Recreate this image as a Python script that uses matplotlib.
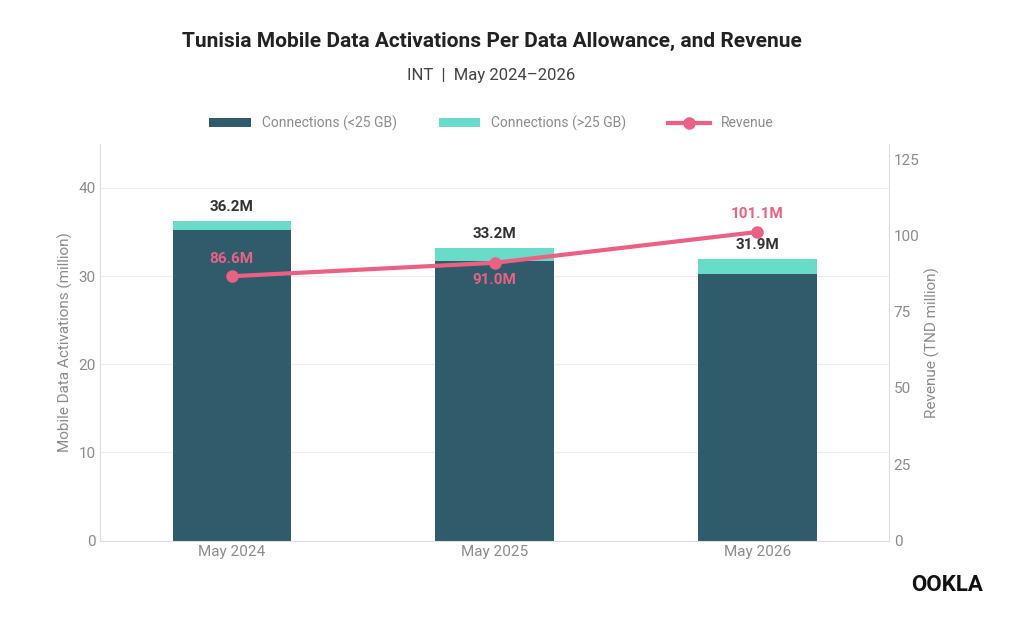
import matplotlib.pyplot as plt
import numpy as np

months = ["May 2024", "May 2025", "May 2026"]
conn_low = [35.2, 31.7, 30.2]
conn_total = [36.2, 33.2, 31.9]
conn_high = [t - l for t, l in zip(conn_total, conn_low)]
revenue = [86.6, 91.0, 101.1]

dark = "#2f5b6b"
teal = "#68dcc8"
pink = "#ec6183"
grey = "#8c8c8c"

plt.rcParams['font.family'] = ['Roboto', 'DejaVu Sans']
fig = plt.figure(figsize=(10.24, 6.25), dpi=100)
ax = fig.add_axes([0.098, 0.135, 0.77, 0.635])
x = np.arange(len(months))
ax.bar(x, conn_low, 0.45, color=dark, label="Connections (<25 GB)", zorder=2)
ax.bar(x, conn_high, 0.45, bottom=conn_low, color=teal, label="Connections (>25 GB)", zorder=2)
for i, t in enumerate(conn_total):
    ax.text(i, t + 0.8, f"{t:.1f}M", ha="center", va="bottom", fontsize=11,
            fontweight="bold", color="#333333")
ax.set_xlim(-0.5, 2.5)
ax.set_ylim(0, 45)
ax.set_yticks([0, 10, 20, 30, 40])
ax.set_xticks(x)
ax.set_xticklabels(months)
ax.grid(axis="y", color="#eeeeee", zorder=0)
ax.set_ylabel("Mobile Data Activations (million)", color=grey, fontsize=11)

ax2 = ax.twinx()
ax2.plot(x, revenue, color=pink, lw=3, marker="o", ms=8, label="Revenue", zorder=3)
ax2.set_ylim(0, 130)
ax2.set_yticks([0, 25, 50, 75, 100, 125])
ax2.set_ylabel("Revenue (TND million)", color=grey, fontsize=11)
offs = [3.5, -3.5, 3.5]
for i, r in enumerate(revenue):
    ax2.text(i, r + offs[i], f"{r:.1f}M", ha="center", va="bottom" if offs[i] > 0 else "top",
             fontsize=11, fontweight="bold", color=pink)

for a in (ax, ax2):
    for s in a.spines.values():
        s.set_visible(False)
    a.tick_params(colors=grey, labelsize=11, length=0)
ax.spines["left"].set_visible(True)
ax.spines["left"].set_color("#dddddd")
ax.spines["bottom"].set_visible(True)
ax.spines["bottom"].set_color("#dddddd")
ax2.spines["right"].set_visible(True)
ax2.spines["right"].set_color("#dddddd")

h1, l1 = ax.get_legend_handles_labels()
h2, l2 = ax2.get_legend_handles_labels()
fig.legend(h1 + h2, l1 + l2, loc="center", bbox_to_anchor=(0.48, 0.803), ncol=3,
           frameon=False, fontsize=10, labelcolor=grey, handlelength=3, columnspacing=3)

fig.text(0.48, 0.925, "Tunisia Mobile Data Activations Per Data Allowance, and Revenue",
         ha="center", fontsize=15, fontweight="bold", color="#222222")
fig.text(0.48, 0.872, "INT  |  May 2024\u20132026", ha="center", fontsize=12, color="#444444")
fig.text(0.925, 0.055, "OOKLA", ha="center", fontsize=16, fontweight="bold", color="#111111")

fig.savefig("out.png")
